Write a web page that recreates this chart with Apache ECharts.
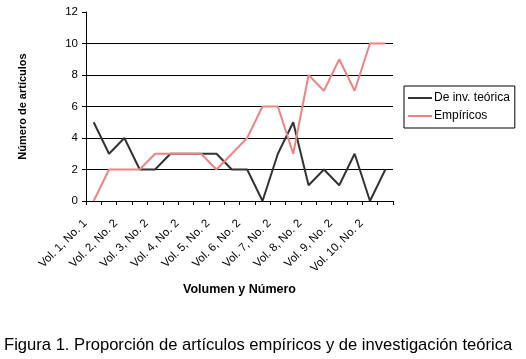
<!DOCTYPE html>
<html lang="es">
<head>
    <meta charset="UTF-8">
    <title>Figura 1</title>
    <style>
        * { padding: 0; margin: 0; }
        body { background: #fff; }
    </style>
    <script src="https://cdn.jsdelivr.net/npm/echarts@6/dist/echarts.min.js"></script>
</head>
<body>
    <div id="main" style="width: 526px; height: 359px;"></div>
    <script type="text/javascript">
    // números de la revista (solo se ven uno sí y otro no)
    var categorias = ['Vol. 1, No. 1', 'Vol. 2, No. 1', 'Vol. 2, No. 2', 'Vol. 3, No. 1', 'Vol. 3, No. 2',
        'Vol. 4, No. 1', 'Vol. 4, No. 2', 'Vol. 5, No. 1', 'Vol. 5, No. 2', 'Vol. 6, No. 1',
        'Vol. 6, No. 2', 'Vol. 7, No. 1', 'Vol. 7, No. 2', 'Vol. 8, No. 1', 'Vol. 8, No. 2',
        'Vol. 9, No. 1', 'Vol. 9, No. 2', 'Vol. 10, No. 1', 'Vol. 10, No. 2', 'Vol. 11, No. 1'];
    var teoricos = [5, 3, 4, 2, 2, 3, 3, 3, 3, 2, 2, 0, 3, 5, 1, 2, 1, 3, 0, 2];
    var empiricos = [0, 2, 2, 2, 3, 3, 3, 3, 2, 3, 4, 6, 6, 3, 8, 7, 9, 7, 10, 10];
    var yTicks = [0, 2, 4, 6, 8, 10, 12];

    var myChart = echarts.init(document.getElementById('main'));
    var fuente = 'Liberation Sans, Arial, sans-serif';

    var option = {
        animation: false,
        textStyle: { fontFamily: fuente },
        grid: { left: 86, right: 133, top: 12, bottom: 158 },
        legend: {
            orient: 'vertical',
            left: 404,
            top: 86,
            padding: [6, 5, 6, 4],
            itemGap: 6,
            itemWidth: 24,
            itemHeight: 2,
            icon: 'rect',
            borderColor: '#000',
            borderWidth: 1,
            textStyle: { fontSize: 12, color: '#000', fontFamily: fuente, padding: [0, 0, 0, -3] },
            data: ['De inv. teórica', 'Empíricos']
        },
        xAxis: {
            type: 'category',
            data: categorias,
            boundaryGap: true,
            name: 'Volumen y Número',
            nameLocation: 'middle',
            nameGap: 82,
            nameMoveOverlap: false,
            nameTextStyle: { fontSize: 12.5, fontWeight: 'bold', color: '#000' },
            axisLine: { lineStyle: { color: '#000', width: 1 } },
            axisTick: { show: true, interval: 0, length: 4, lineStyle: { color: '#000' } },
            axisLabel: {
                interval: 1,
                rotate: 45,
                fontSize: 11.5,
                color: '#000',
                margin: 12,
                padding: [0, 12, 0, 0]
            },
            splitLine: { show: false }
        },
        yAxis: {
            type: 'value',
            min: yTicks[0],
            max: yTicks[yTicks.length - 1],
            interval: 2,
            name: 'Número de artículos',
            nameLocation: 'middle',
            nameGap: 58,
            nameMoveOverlap: false,
            nameTextStyle: { fontSize: 11, fontWeight: 'bold', color: '#000' },
            axisLine: { show: true, lineStyle: { color: '#000', width: 1 } },
            axisTick: { show: true, length: 4, lineStyle: { color: '#000' } },
            axisLabel: { fontSize: 11.5, color: '#000', margin: 8 },
            // sin línea en 12
            splitLine: {
                show: true,
                lineStyle: { color: ['#000', '#000', '#000', '#000', '#000', '#000', 'rgba(0,0,0,0)'], width: 1 }
            }
        },
        series: [{
            name: 'De inv. teórica',
            type: 'line',
            data: teoricos,
            symbol: 'none',
            lineStyle: { color: '#333333', width: 2 },
            itemStyle: { color: '#333333' }
        }, {
            name: 'Empíricos',
            type: 'line',
            data: empiricos,
            symbol: 'none',
            lineStyle: { color: '#ec8484', width: 2 },
            itemStyle: { color: '#ec8484' }
        }],
        graphic: [{
            type: 'text',
            left: 4,
            top: 337,
            style: {
                text: 'Figura 1. Proporción de artículos empíricos y de investigación teórica',
                fontSize: 16.6,
                fontFamily: fuente,
                fill: '#000'
            }
        }]
    };

    myChart.setOption(option);
    </script>
</body>
</html>
